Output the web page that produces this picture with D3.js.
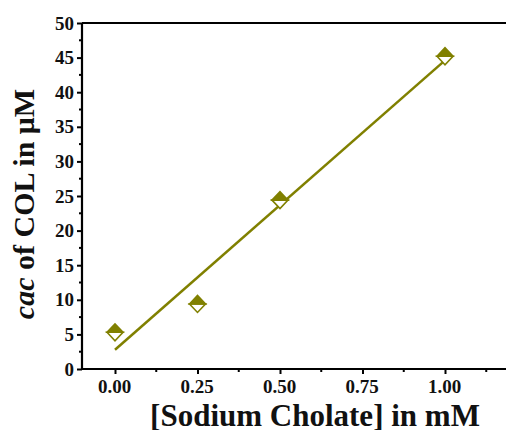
<!DOCTYPE html>
<html>
<head>
<meta charset="utf-8">
<script src="https://cdn.jsdelivr.net/npm/d3@7"></script>
<style>
  html, body { margin: 0; padding: 0; background: #fff; }
  svg { display: block; }
  text { font-family: "Palatino Linotype", "Book Antiqua", Palatino, "Liberation Serif", serif; font-weight: bold; fill: #111; }
</style>
</head>
<body>
<svg id="chart" width="506" height="430"></svg>
<script>
// Sodium cholate concentration (mM) and measured cac of COL (µM)
const concentrations = [0, 0.25, 0.5, 1.0];
const cacValues = [5.3, 9.4, 24.4, 45.2];
const xTicks = [0, 0.25, 0.5, 0.75, 1.0];
const yTicks = [0, 5, 10, 15, 20, 25, 30, 35, 40, 45, 50];

const olive = "#808000";
const svg = d3.select("#chart");

const plotLeft = 82, plotTop = 23, plotBottom = 369;
const x = d3.scaleLinear().domain([-0.1, 1.2]).range([plotLeft, plotLeft + 429]);
const y = d3.scaleLinear().domain([0, 50]).range([plotBottom, plotTop]);

// least-squares fit line through the measured points
const mx = d3.mean(concentrations), my = d3.mean(cacValues);
const sxy = d3.sum(concentrations, (c, i) => (c - mx) * (cacValues[i] - my));
const sxx = d3.sum(concentrations, c => (c - mx) ** 2);
const slope = sxy / sxx, intercept = my - slope * mx;
const fitX = [0, 1];

// frame: top and right edges
svg.append("line").attr("x1", x(-0.1)).attr("x2", x(1.2)).attr("y1", y(50)).attr("y2", y(50))
  .attr("stroke", "#000").attr("stroke-width", 2);
svg.append("line").attr("x1", x(1.2)).attr("x2", x(1.2)).attr("y1", y(0)).attr("y2", y(50))
  .attr("stroke", "#000").attr("stroke-width", 2);

// y axis with minor ticks
const yMinor = d3.range(2.5, 50, 5);
const yAxis = svg.append("g").attr("transform", `translate(${plotLeft},0)`);
yAxis.call(d3.axisLeft(y).tickValues(yTicks).tickFormat(d3.format("d")).tickSize(5).tickPadding(3));
yAxis.selectAll(".minor").data(yMinor).join("line").attr("class", "minor")
  .attr("x1", -3).attr("x2", 0).attr("y1", d => y(d)).attr("y2", d => y(d))
  .attr("stroke", "#000").attr("stroke-width", 2);

// x axis with minor ticks
const xMinor = d3.range(0.125, 1.2, 0.25);
const xAxis = svg.append("g").attr("transform", `translate(0,${plotBottom})`);
xAxis.call(d3.axisBottom(x).tickValues(xTicks).tickFormat(d3.format(".2f")).tickSize(5).tickPadding(6));
xAxis.selectAll(".minor").data(xMinor).join("line").attr("class", "minor")
  .attr("y1", 0).attr("y2", 3).attr("x1", d => x(d)).attr("x2", d => x(d))
  .attr("stroke", "#000").attr("stroke-width", 2);

[yAxis, xAxis].forEach(g => {
  g.select(".domain").attr("stroke", "#000").attr("stroke-width", 2.2);
  g.selectAll(".tick line").attr("stroke", "#000").attr("stroke-width", 2);
  g.selectAll(".tick text").attr("font-size", 19).attr("fill", "#111")
    .style("font-family", '"Palatino Linotype", "Book Antiqua", Palatino, "Liberation Serif", serif')
    .style("font-weight", "bold");
});
xAxis.selectAll(".tick text").attr("dx", -1);
xAxis.select(".domain").attr("d", `M${x(-0.1)},0H${x(1.2)}`);
yAxis.select(".domain").attr("d", `M0,${y(0)}V${y(50)}`);

// fit line
svg.append("line")
  .attr("x1", x(fitX[0])).attr("y1", y(intercept + slope * fitX[0]))
  .attr("x2", x(fitX[1])).attr("y2", y(intercept + slope * fitX[1]))
  .attr("stroke", olive).attr("stroke-width", 2.5);

// half-filled diamond markers
const hw = 8, hh = 8.5;
const pts = svg.append("g").selectAll("g").data(concentrations).join("g")
  .attr("transform", (c, i) => `translate(${x(c)},${y(cacValues[i])})`);
pts.append("path").attr("d", `M${-hw},0L0,${hh}L${hw},0Z`)
  .attr("fill", "#fff").attr("stroke", olive).attr("stroke-width", 1.6).attr("stroke-linejoin", "miter");
pts.append("path").attr("d", `M${-hw},0L0,${-hh}L${hw},0Z`)
  .attr("fill", olive).attr("stroke", olive).attr("stroke-width", 1.6).attr("stroke-linejoin", "miter");

// axis titles
svg.append("text").attr("x", 315).attr("y", 426).attr("text-anchor", "middle")
  .attr("font-size", 31).text("[Sodium Cholate] in mM");

const yt = svg.append("text").attr("transform", "translate(34,204) rotate(-90)")
  .attr("text-anchor", "middle").attr("font-size", 30);
yt.append("tspan").attr("font-style", "italic").text("cac");
yt.append("tspan").text(" of COL in μM");
</script>
</body>
</html>
